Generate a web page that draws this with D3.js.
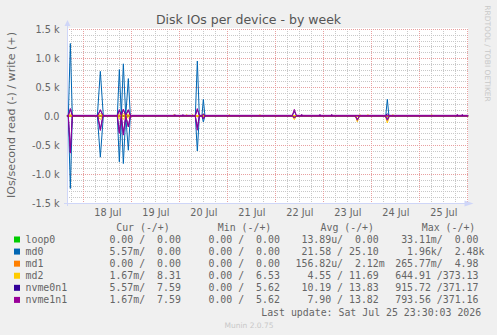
<!DOCTYPE html>
<html>
<head>
<meta charset="utf-8">
<script src="https://cdn.jsdelivr.net/npm/d3@7"></script>
<style>
body { margin: 0; background: #f0f0f0; }
text { font-family: "DejaVu Sans", sans-serif; fill: #666; }
.mono { font-family: "DejaVu Sans Mono", monospace; white-space: pre; }
</style>
</head>
<body>
<div id="chart"></div>
<script>
// series data: [hours after 18 Jul 00:00, IOs/second]; reads are drawn below zero

var names  = ["loop0", "md0", "md1", "md2", "nvme0n1", "nvme1n1"],
    colors = ["#00cc00", "#0066b3", "#ff8000", "#ffcc00", "#330099", "#990099"];

var loop0Write = [[-8.2, 0], [192.4, 0]],
    loop0Read  = [[-8.2, 0], [192.4, 0]];

var md0Write = [[-8.2, 0], [-7.5, 0], [-6.5, 1250], [-5.5, 0], [7, 0], [8.5, 770], [10, 0],
                [17, 0], [18, 800], [19, 0], [20, 900], [21.2, 0], [22.5, 645], [23.5, 0],
                [56, 0], [57, 948], [58, 0], [59.3, 0], [60, 288], [60.8, 0],
                [151.2, 0], [152, 288], [152.8, 0], [192.4, 0]],
    md0Read  = [[-8.2, 0], [-7.5, 0], [-6.5, 1250], [-5.5, 0], [7, 0], [8.5, 710], [10, 0],
                [17, 0], [18, 790], [19, 0], [20, 820], [21.2, 0], [22.5, 590], [23.5, 0],
                [56, 0], [57, 603], [58, 0], [59.3, 0], [60, 103], [60.8, 0],
                [151.2, 0], [152, 20], [152.8, 0], [192.4, 0]];

var md1Write = [[-8.2, 0], [192.4, 0]],
    md1Read  = [[-8.2, 0], [192.4, 0]];

var md2Write = [[-8.2, 8], [-7.5, 8], [-6.5, 30], [-5.5, 8], [7.2, 8], [8.5, 40], [9.8, 8],
                [17, 8], [18, 30], [19, 8], [20, 40], [21.2, 8], [22.5, 30], [23.5, 8],
                [44.8, 8], [45.3, 25], [45.8, 8], [51.2, 8], [51.7, 25], [52.2, 8],
                [54, 8], [54.5, 25], [55, 8], [59.3, 8], [59.8, 25], [60.3, 8],
                [72.5, 8], [73, 25], [73.5, 8], [87.8, 8], [88.3, 25], [88.8, 8],
                [137.8, 8], [138.3, 25], [138.8, 8], [141.8, 8], [142.3, 25], [142.8, 8],
                [154.3, 8], [154.8, 25], [155.3, 8], [173.7, 8], [174.2, 25], [174.7, 8],
                [192.4, 8]],
    md2Read  = [[-8.2, 0], [7.2, 0], [8.5, 60], [9.8, 0], [17, 0], [18, 50], [19, 0],
                [20, 60], [21.2, 0], [22.5, 40], [23.5, 0], [56, 0], [57, 15], [58, 0],
                [104.5, 0], [105.5, 62], [106.5, 0], [136, 0], [137, 100], [138, 0],
                [151, 0], [152, 120], [153, 0], [192.4, 0]];

var nvme0Write = [[-8.2, 10], [-7.5, 10], [-6.5, 110], [-5.5, 10], [7.2, 10], [8.5, 100], [9.8, 10],
                  [17, 10], [18, 100], [19, 10], [20, 110], [21.2, 10], [22.5, 100], [23.5, 10],
                  [56, 10], [57, 110], [58, 10], [59.3, 10], [60, 25], [60.8, 10],
                  [104.5, 10], [105.5, 80], [106.5, 10], [151.2, 10], [152, 40], [152.8, 10],
                  [192.4, 10]],
    nvme0Read  = [[-8.2, 0], [-7.5, 0], [-6.5, 620], [-5.5, 0], [7.2, 0], [8.5, 230], [9.8, 0],
                  [17, 0], [18, 280], [19, 0], [20, 300], [21.2, 0], [22.5, 180], [23.5, 0],
                  [56, 0], [57, 200], [58, 0], [59.3, 0], [60, 45], [60.8, 0],
                  [104.5, 0], [105.5, 30], [106.5, 0], [136, 0], [137, 60], [138, 0],
                  [151, 0], [152, 60], [153, 0], [192.4, 0]];

var nvme1Write = [[-8.2, 10], [-7.5, 10], [-6.5, 130], [-5.5, 10], [7.2, 10], [8.5, 110], [9.8, 10],
                  [17, 10], [18, 110], [19, 10], [20, 120], [21.2, 10], [22.5, 110], [23.5, 10],
                  [45.3, 10], [45.8, 25], [46.3, 10], [49.3, 10], [49.8, 25], [50.3, 10],
                  [56, 10], [57, 128], [58, 10], [59.3, 10], [60, 30], [60.8, 10],
                  [104.5, 10], [105.5, 115], [106.5, 10], [108.7, 10], [109.2, 30], [109.7, 10],
                  [117.8, 10], [118.3, 30], [118.8, 10], [123.7, 10], [124.2, 30], [124.7, 10],
                  [186.5, 10], [187, 30], [187.5, 10], [189, 10], [189.5, 30], [190, 10],
                  [192.4, 10]],
    nvme1Read  = [[-8.2, 0], [-7.5, 0], [-6.5, 640], [-5.5, 0], [7.2, 0], [8.5, 250], [9.8, 0],
                  [17, 0], [18, 300], [19, 0], [20, 330], [21.2, 0], [22.5, 190], [23.5, 0],
                  [56, 0], [57, 245], [58, 0], [59.3, 0], [60, 50], [60.8, 0],
                  [104.5, 0], [105.5, 35], [106.5, 0], [136, 0], [137, 75], [138, 0],
                  [151, 0], [152, 75], [153, 0], [192.4, 0]];

var writes = [loop0Write, md0Write, md1Write, md2Write, nvme0Write, nvme1Write],
    reads  = [loop0Read, md0Read, md1Read, md2Read, nvme0Read, nvme1Read];

// legend columns, formatted the rrdtool way
var curCol = ["  0.00 /  0.00 ", "  5.57m/  0.00 ", "  0.00 /  0.00 ", "  1.67m/  8.31 ", "  5.57m/  7.59 ", "  1.67m/  7.59 "],
    minCol = ["  0.00 /  0.00 ", "  0.00 /  0.00 ", "  0.00 /  0.00 ", "  0.00 /  6.53 ", "  0.00 /  5.62 ", "  0.00 /  5.62 "],
    avgCol = [" 13.89u/  0.00 ", " 21.58 / 25.10 ", "156.82u/  2.12m", "  4.55 / 11.69 ", " 10.19 / 13.83 ", "  7.90 / 13.82 "],
    maxCol = [" 33.11m/  0.00 ", "  1.96k/  2.48k", "265.77m/  4.98 ", "644.91 /373.13 ", "915.72 /371.17 ", "793.56 /371.16 "];

var yTicks = [-1500, -1000, -500, 0, 500, 1000, 1500],
    yTickLabels = ["-1.5 k", "-1.0 k", "-0.5 k", "0.0", "0.5 k", "1.0 k", "1.5 k"];

var w = 497, h = 335;
var t0 = new Date(2026, 6, 18);
function at(hr) { return new Date(t0.getTime() + hr * 3600e3); }

var svg = d3.select("#chart").append("svg").attr("width", w).attr("height", h),
    x = d3.scaleTime().domain([at(-8.17), at(192.33)]).range([67, 468]),
    y = d3.scaleLinear().domain([-1500, 1500]).range([203, 29]);

svg.append("rect").attr("width", w).attr("height", h).attr("fill", "#f0f0f0");
svg.append("rect").attr("x", 67).attr("y", 28).attr("width", 401).attr("height", 175).attr("fill", "#fff");

// grid
var grid = svg.append("g");
var minorY = d3.range(-1500, 1501, 100).filter(function(v) { return v % 500 != 0; });
grid.selectAll(".hmin").data(minorY).enter().append("line")
    .attr("x1", 67).attr("x2", 468)
    .attr("y1", function(d) { return Math.round(y(d)) + 0.5; })
    .attr("y2", function(d) { return Math.round(y(d)) + 0.5; })
    .attr("stroke", "#c8c8c8").attr("stroke-dasharray", "1,1");
var hours6 = d3.timeHour.every(6).range(x.domain()[0], x.domain()[1])
    .filter(function(d) { return d.getHours() != 0; });
grid.selectAll(".vmin").data(hours6).enter().append("line")
    .attr("y1", 29).attr("y2", 203)
    .attr("x1", function(d) { return Math.floor(x(d)) + 0.5; })
    .attr("x2", function(d) { return Math.floor(x(d)) + 0.5; })
    .attr("stroke", "#c8c8c8").attr("stroke-dasharray", "1,1");
grid.selectAll(".hmaj").data(yTicks).enter().append("line")
    .attr("x1", 67).attr("x2", 468)
    .attr("y1", function(d) { return Math.round(y(d)) + 0.5; })
    .attr("y2", function(d) { return Math.round(y(d)) + 0.5; })
    .attr("stroke", "#e8a0a0").attr("stroke-dasharray", "1,1");
grid.selectAll(".vmaj").data(d3.timeDay.range(x.domain()[0], x.domain()[1])).enter().append("line")
    .attr("y1", 29).attr("y2", 203)
    .attr("x1", function(d) { return Math.floor(x(d)) + 0.5; })
    .attr("x2", function(d) { return Math.floor(x(d)) + 0.5; })
    .attr("stroke", "#e8a0a0").attr("stroke-dasharray", "1,1");

// axes lines + arrows
svg.append("line").attr("x1", 64).attr("x2", 469).attr("y1", 203.5).attr("y2", 203.5).attr("stroke", "#cfd6f8");
svg.append("line").attr("x1", 67.5).attr("x2", 67.5).attr("y1", 206).attr("y2", 24).attr("stroke", "#cfd6f8");
svg.append("path").attr("d", "M464.5,200.5L473.5,203.5L464.5,206.5Z").attr("fill", "#cfd6f8");
svg.append("path").attr("d", "M64.5,26L67.5,20L70.5,26Z").attr("fill", "#cfd6f8");

// data lines
var line = d3.line()
    .x(function(d) { return x(at(d[0])); })
    .y(function(d) { return y(d[1]); });
var lineNeg = d3.line()
    .x(function(d) { return x(at(d[0])); })
    .y(function(d) { return y(-d[1]); });
names.forEach(function(n, i) {
    svg.append("path").datum(reads[i]).attr("d", lineNeg)
        .attr("fill", "none").attr("stroke", colors[i]).attr("stroke-width", 1);
    svg.append("path").datum(writes[i]).attr("d", line)
        .attr("fill", "none").attr("stroke", colors[i]).attr("stroke-width", 1);
});

// axis labels
var yAxis = svg.append("g").attr("transform", "translate(67,0)")
    .call(d3.axisLeft(y).tickValues(yTicks).tickSize(0).tickPadding(7.5)
        .tickFormat(function(d, i) { return yTickLabels[i]; }));
yAxis.select(".domain").remove();
yAxis.selectAll("text").attr("font-family", null).attr("font-size", null)
    .style("font-size", "9.7px").attr("fill", "#666");

var noons = d3.timeDay.range(at(-24), at(200)).map(function(d) { return d3.timeHour.offset(d, 12); })
    .filter(function(d) { return d > x.domain()[0] && d < x.domain()[1]; });
var xAxis = svg.append("g").attr("transform", "translate(0,203)")
    .call(d3.axisBottom(x).tickValues(noons).tickSize(0).tickPadding(6)
        .tickFormat(d3.timeFormat("%d %b")));
xAxis.select(".domain").remove();
xAxis.selectAll("text").attr("font-family", null).attr("font-size", null)
    .style("font-size", "9.7px").attr("fill", "#666");

// title and labels
svg.append("text").attr("x", 248.5).attr("y", 23.5).attr("text-anchor", "middle")
    .style("font-size", "12.5px").style("fill", "#555").text("Disk IOs per device - by week");
svg.append("text").attr("transform", "translate(15,115) rotate(-90)").attr("text-anchor", "middle")
    .style("font-size", "11.1px").text("IOs/second read (-) / write (+)");
svg.append("text").attr("transform", "translate(484.5,53.5) rotate(90)").attr("text-anchor", "middle")
    .style("font-size", "7.5px").style("fill", "#c8c8c8").text("RRDTOOL / TOBI OETIKER");

// legend
var lg = svg.append("g").attr("class", "mono").style("font-size", "9.9px");
[["Cur (-/+)", 116.2], ["Min (-/+)", 217.8], ["Avg (-/+)", 320.5], ["Max (-/+)", 421.8]].forEach(function(hd) {
    lg.append("text").attr("class", "mono").attr("x", hd[1]).attr("y", 231).text(hd[0]);
});
names.forEach(function(n, i) {
    var by = 243 + i * 12.08;
    lg.append("rect").attr("x", 14).attr("y", by - 6.5).attr("width", 6).attr("height", 6).attr("fill", colors[i]);
    lg.append("text").attr("class", "mono").attr("x", 25.5).attr("y", by).text(n);
    lg.append("text").attr("class", "mono").attr("x", 97.6).attr("y", by).text(curCol[i]);
    lg.append("text").attr("class", "mono").attr("x", 196.6).attr("y", by).text(minCol[i]);
    lg.append("text").attr("class", "mono").attr("x", 295.5).attr("y", by).text(avgCol[i]);
    lg.append("text").attr("class", "mono").attr("x", 395.2).attr("y", by).text(maxCol[i]);
});
lg.append("text").attr("class", "mono").attr("x", 261.2).attr("y", 315.5)
    .text("Last update: Sat Jul 25 23:30:03 2026");
svg.append("text").attr("x", 249).attr("y", 327.5).attr("text-anchor", "middle")
    .style("font-size", "7.5px").style("fill", "#c8c8c8").text("Munin 2.0.75");
</script>
</body>
</html>
